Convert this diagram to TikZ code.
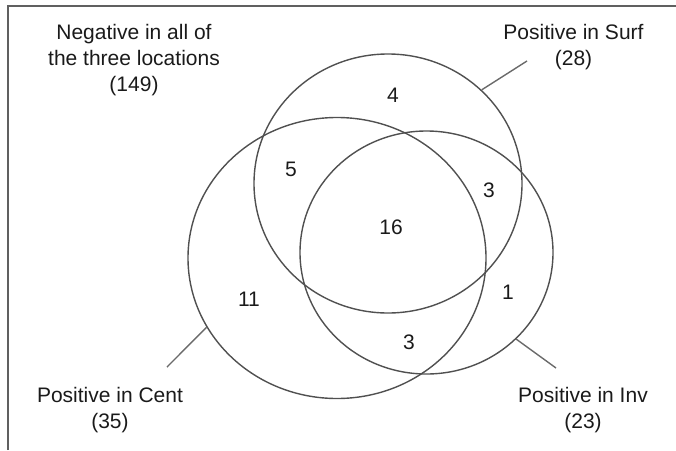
\documentclass[tikz,border=0pt]{standalone}
\usepackage{fontspec}
\setmainfont{Liberation Sans}
\usetikzlibrary{shapes.geometric}
\definecolor{linegrey}{HTML}{505050}
\definecolor{framegrey}{HTML}{606060}
\definecolor{textgrey}{HTML}{1A1A1A}
\begin{document}
\begin{tikzpicture}[x=1pt,y=-1pt,
  set/.style={ellipse,draw=linegrey,line width=1.4pt,inner sep=0pt,minimum width=#1},
  leader/.style={draw=linegrey!85,line width=1.4pt},
  framestyle/.style={draw=framegrey,line width=2pt},
  lbl/.style={align=center,inner sep=0pt,anchor=north,text=textgrey,font=\fontsize{21}{26}\selectfont},
  num/.style={inner sep=0pt,text=textgrey,font=\fontsize{21}{26}\selectfont}]
\useasboundingbox (0,0) rectangle (676,450);
% frame
\draw[framestyle] (8,450) -- (8,6) -- (676,6);
% sets
\node[set=268pt,minimum height=259pt] (surf) at (388,183.5) {};
\node[set=298pt,minimum height=281pt] (cent) at (337,258) {};
\node[set=253pt,minimum height=243pt] (inv) at (426.5,252.5) {};
% labels
\node[lbl] (neg) at (134,23.7) {Negative in all of\\the three locations\\(149)};
\node[lbl] (lsurf) at (573.5,23.7) {Positive in Surf\\(28)};
\node[lbl] (lcent) at (110,386.7) {Positive in Cent\\(35)};
\node[lbl] (linv) at (583,386.7) {Positive in Inv\\(23)};
% leader ends
\coordinate (esurf) at (527,61);
\coordinate (ecent) at (167,367);
\coordinate (einv) at (556,368);
\draw[leader] (surf.45) -- (esurf);
\draw[leader] (cent.208) -- (ecent);
\draw[leader] (inv.-44) -- (einv);
% region counts
\node[num] (n4) at (393,95) {4};
\node[num] (n5) at (291,169) {5};
\node[num] (n3a) at (489,190) {3};
\node[num] (n16) at (391,227) {16};
\node[num] (n11) at (249,299) {11};
\node[num] (n1) at (508,292) {1};
\node[num] (n3b) at (409,342) {3};
\end{tikzpicture}
\end{document}
